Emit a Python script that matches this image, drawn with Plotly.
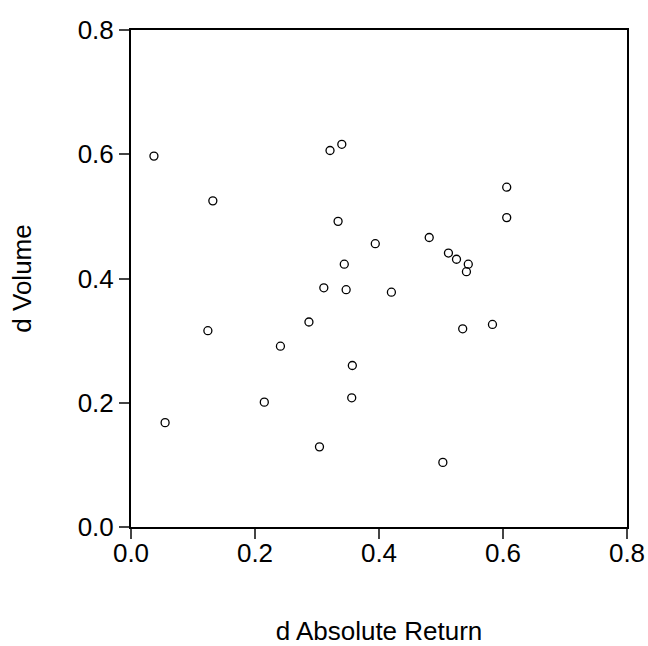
import plotly.graph_objects as go

abs_return = [0.037, 0.055, 0.124, 0.132, 0.215, 0.241, 0.287, 0.304, 0.311, 0.321,
              0.340, 0.334, 0.344, 0.347, 0.356, 0.357, 0.394, 0.420, 0.481, 0.503,
              0.512, 0.525, 0.544, 0.541, 0.535, 0.583, 0.606, 0.606]
volume = [0.597, 0.168, 0.316, 0.525, 0.201, 0.291, 0.330, 0.129, 0.385, 0.606,
          0.616, 0.492, 0.423, 0.382, 0.208, 0.260, 0.456, 0.378, 0.466, 0.104,
          0.441, 0.431, 0.423, 0.411, 0.319, 0.326, 0.547, 0.498]
tick_vals = [0.0, 0.2, 0.4, 0.6, 0.8]
tick_text = ["0.0", "0.2", "0.4", "0.6", "0.8"]

fig = go.Figure()
fig.add_trace(go.Scatter(
    x=abs_return, y=volume, mode="markers",
    marker=dict(symbol="circle-open", size=8, color="black", line=dict(width=1.3, color="black")),
    showlegend=False,
))

axis_common = dict(
    range=[0, 0.8], tickvals=tick_vals, ticktext=tick_text,
    showgrid=False, zeroline=False, automargin=False,
    showline=True, linecolor="black", linewidth=2, mirror=True,
    ticks="outside", ticklen=10, tickwidth=1.5, tickcolor="#444444",
    tickfont=dict(family="Liberation Sans, Arial, sans-serif", size=26, color="black"),
)

fig.update_layout(
    width=648, height=646,
    margin=dict(l=131, r=21, t=30, b=119, autoexpand=False),
    paper_bgcolor="white", plot_bgcolor="white",
    font=dict(family="Liberation Sans, Arial, sans-serif", color="black"),
    xaxis=dict(**axis_common, ticklabelstandoff=-8,
               title=dict(text="d Absolute Return", font=dict(size=26), standoff=73)),
    yaxis=dict(**axis_common, ticklabelstandoff=0,
               title=dict(text="d Volume", font=dict(size=26), standoff=39)),
)

fig.write_html("out.html", config={"displayModeBar": False},
               post_script="document.body.style.margin='0';")
